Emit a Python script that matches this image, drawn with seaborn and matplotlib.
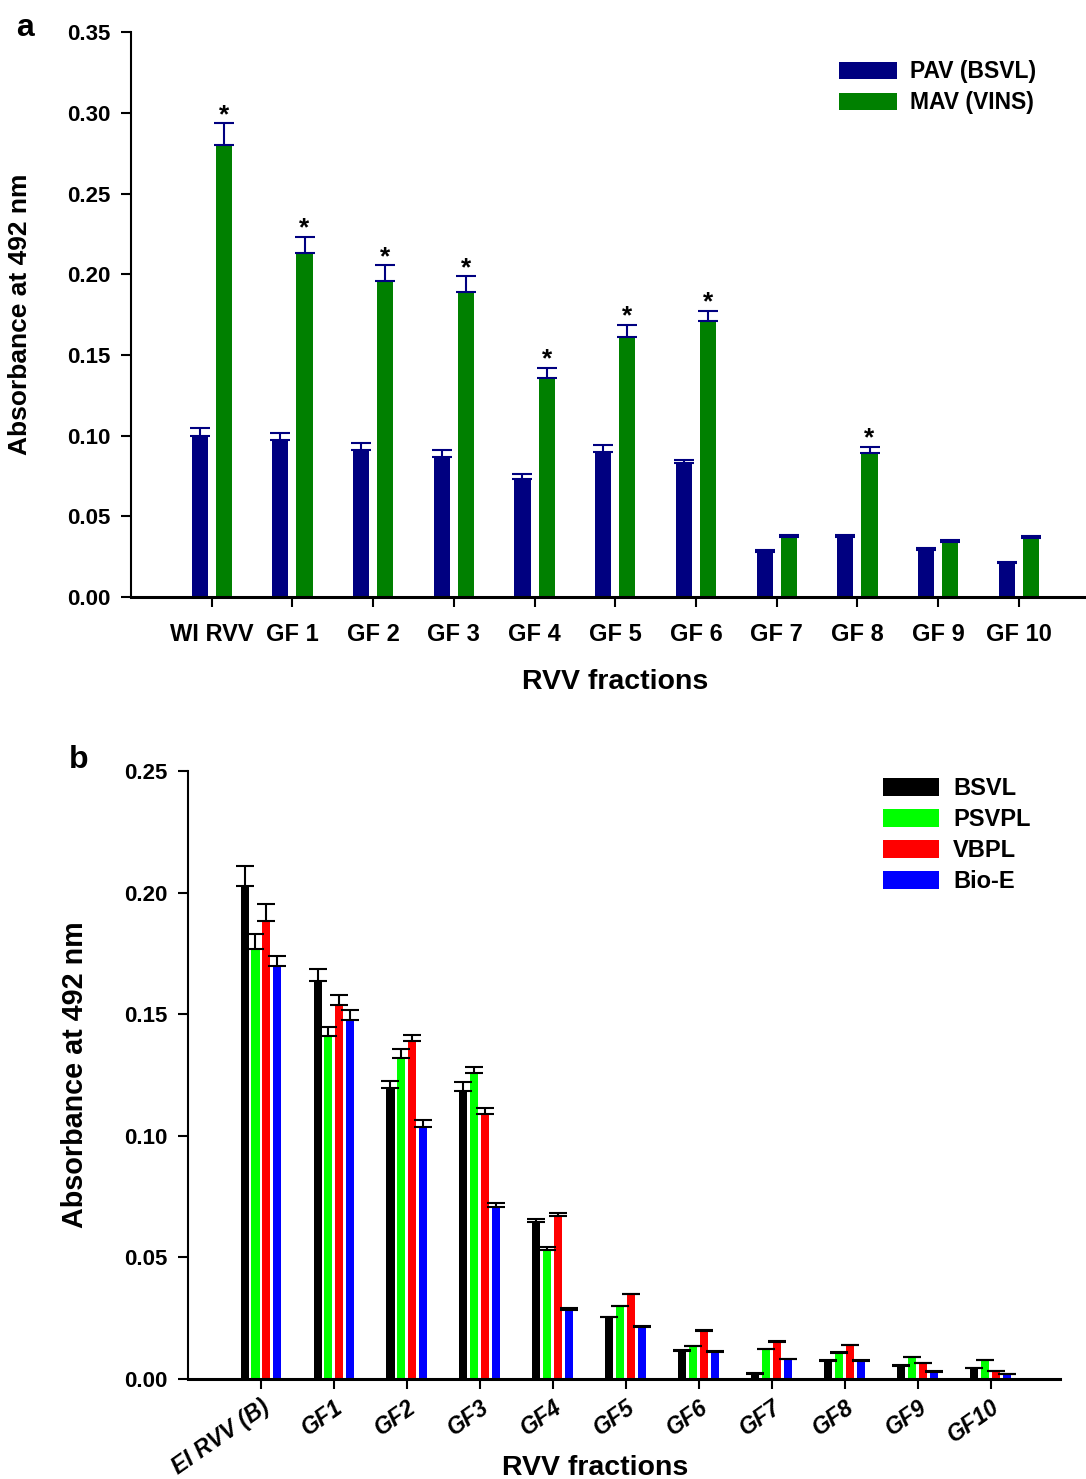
import numpy as np
import pandas as pd
import matplotlib
matplotlib.use("Agg")
import matplotlib.pyplot as plt
import seaborn as sns

# ---------------- data ----------------
categories_a = ["WI RVV", "GF 1", "GF 2", "GF 3", "GF 4", "GF 5", "GF 6",
                "GF 7", "GF 8", "GF 9", "GF 10"]
series_a = ["PAV (BSVL)", "MAV (VINS)"]
pav = [0.100, 0.097, 0.091, 0.087, 0.073, 0.090, 0.083, 0.028, 0.037, 0.029, 0.021]
pav_err = [0.0046, 0.0046, 0.0046, 0.0041, 0.0033, 0.0043, 0.0019, 0.0012, 0.0016, 0.0011, 0.0008]
mav = [0.280, 0.213, 0.196, 0.189, 0.1355, 0.161, 0.171, 0.037, 0.089, 0.034, 0.0366]
mav_err = [0.0134, 0.0103, 0.0095, 0.0096, 0.0064, 0.0078, 0.0064, 0.0016, 0.0042, 0.0014, 0.0014]
mav_star = [1, 1, 1, 1, 1, 1, 1, 0, 1, 0, 0]

categories_b = ["EI RVV (B)", "GF1", "GF2", "GF3", "GF4", "GF5", "GF6",
                "GF7", "GF8", "GF9", "GF10"]
series_b = ["BSVL", "PSVPL", "VBPL", "Bio-E"]
bsvl = [0.2028, 0.1638, 0.1197, 0.1186, 0.0646, 0.0254, 0.0116, 0.0020, 0.0075, 0.0055, 0.0044]
bsvl_err = [0.0081, 0.0048, 0.0029, 0.0037, 0.0010, 0.0003, 0.0002, 0.0003, 0.0002, 0.0002, 0.0002]
psvpl = [0.1770, 0.1410, 0.1322, 0.1260, 0.0530, 0.0299, 0.0135, 0.0122, 0.0108, 0.0090, 0.0078]
psvpl_err = [0.0058, 0.0039, 0.0035, 0.0021, 0.0013, 0.0003, 0.0002, 0.0002, 0.0002, 0.0002, 0.0002]
vbpl = [0.1884, 0.1536, 0.1388, 0.1088, 0.0672, 0.0348, 0.0198, 0.0154, 0.0138, 0.0064, 0.0033]
vbpl_err = [0.0068, 0.0044, 0.0027, 0.0026, 0.0011, 0.0003, 0.0002, 0.0003, 0.0002, 0.0002, 0.0002]
bioe = [0.1697, 0.1476, 0.1036, 0.0707, 0.0283, 0.0214, 0.0112, 0.0081, 0.0075, 0.0029, 0.0019]
bioe_err = [0.0044, 0.0041, 0.0029, 0.0015, 0.0007, 0.0003, 0.0002, 0.0002, 0.0002, 0.0002, 0.0002]

colors_a = ["#000080", "#008000"]
colors_b = ["#000000", "#00FF00", "#FF0000", "#0000FF"]

# ---------------- style ----------------
sns.set_style("ticks")
plt.rcParams["font.family"] = ["Liberation Sans", "DejaVu Sans"]
plt.rcParams["font.weight"] = "bold"
plt.rcParams["axes.labelweight"] = "bold"
for key in ["text.color", "axes.labelcolor", "xtick.color", "ytick.color",
            "axes.edgecolor"]:
    plt.rcParams[key] = "black"

fig = plt.figure(figsize=(10.86, 14.79), dpi=100)
ax1 = fig.add_axes([0.1206, 0.5963, 0.8785, 0.382])
ax2 = fig.add_axes([0.1731, 0.0676, 0.8030, 0.4111])


def long_df(cats, names, vals):
    rows = []
    for name, v in zip(names, vals):
        for c, y in zip(cats, v):
            rows.append({"fraction": c, "series": name, "value": y})
    return pd.DataFrame(rows)


def add_errors(ax, errs, color, lw, capsize):
    tops = []
    for cont, err in zip(ax.containers, errs):
        xs = np.array([b.get_x() + b.get_width() / 2 for b in cont])
        hs = np.array([b.get_height() for b in cont])
        e = np.array(err)
        ax.errorbar(xs, hs, yerr=[np.zeros_like(e), e], fmt="none",
                    ecolor=color, elinewidth=lw, capsize=capsize,
                    capthick=lw, zorder=5, clip_on=False)
        tops.append((xs, hs + e))
    return tops


def style_axis(ax, lw_left, lw_bottom):
    sns.despine(ax=ax)
    ax.spines["left"].set_linewidth(lw_left)
    ax.spines["bottom"].set_linewidth(lw_bottom)
    ax.spines["left"].set_color("black")
    ax.spines["bottom"].set_color("black")
    ax.tick_params(axis="both", direction="out", length=7, width=1.5,
                   color="black", labelcolor="black")


# ---------------- panel a ----------------
df_a = long_df(categories_a, series_a, [pav, mav])
sns.barplot(data=df_a, x="fraction", y="value", hue="series",
            order=categories_a, hue_order=series_a, palette=colors_a,
            width=0.6, gap=0.333, errorbar=None, saturation=1,
            linewidth=0, ax=ax1)
tops_a = add_errors(ax1, [pav_err, mav_err], "#000080", 1.5, 7)
xs_m, top_m = tops_a[1]
for x, t, s in zip(xs_m, top_m, mav_star):
    if s:
        ax1.annotate("*", (x, t), xytext=(0, 1), textcoords="offset points",
                     ha="center", va="baseline", fontsize=19,
                     fontweight="bold", color="black")

ax1.set_xlim(-1.0, 10.82)
ax1.set_ylim(0, 0.35)
ax1.set_yticks(np.arange(0, 0.351, 0.05))
ax1.set_yticklabels([f"{v:.2f}" for v in np.arange(0, 0.351, 0.05)],
                    fontsize=16, fontweight="bold")
ax1.set_xticks(range(len(categories_a)))
ax1.set_xticklabels(categories_a, fontsize=17, fontweight="bold")
style_axis(ax1, 1.5, 2.2)
ax1.tick_params(axis="y", pad=8)
ax1.tick_params(axis="x", pad=12)
ax1.set_ylabel("Absorbance at 492 nm", fontsize=19, fontweight="bold",
               color="black")
ax1.yaxis.set_label_coords(-0.104, 0.5)
ax1.set_xlabel("RVV fractions", fontsize=20.5, fontweight="bold",
               color="black")
ax1.xaxis.label.set_va("center")
ax1.xaxis.set_label_coords(0.507, -0.150)
h, l = ax1.get_legend_handles_labels()
ax1.legend(h, l, loc="upper left", bbox_to_anchor=(0.742, 0.95),
           frameon=False, handlelength=2.52,
           handleheight=0.77, handletextpad=0.6, labelspacing=0.34,
           borderpad=0, borderaxespad=0, labelcolor="black",
           prop={"weight": "bold", "size": 16.5})
fig.text(16 / 1086, 1 - 28 / 1479, "a", fontsize=23, fontweight="bold",
         va="center", ha="left", color="black")

# ---------------- panel b ----------------
df_b = long_df(categories_b, series_b, [bsvl, psvpl, vbpl, bioe])
sns.barplot(data=df_b, x="fraction", y="value", hue="series",
            order=categories_b, hue_order=series_b, palette=colors_b,
            width=0.6, gap=0.267, errorbar=None, saturation=1,
            linewidth=0, ax=ax2)
add_errors(ax2, [bsvl_err, psvpl_err, vbpl_err, bioe_err], "black", 1.5, 6.7)

ax2.set_xlim(-1.0, 10.95)
ax2.set_ylim(0, 0.25)
ax2.set_yticks(np.arange(0, 0.251, 0.05))
ax2.set_yticklabels([f"{v:.2f}" for v in np.arange(0, 0.251, 0.05)],
                    fontsize=16, fontweight="bold")
ax2.set_xticks(range(len(categories_b)))
ax2.set_xticklabels(categories_b, fontsize=16.5, fontweight="bold",
                    fontstyle="italic", rotation=35, ha="right",
                    rotation_mode="anchor")
style_axis(ax2, 1.5, 2.2)
ax2.tick_params(axis="y", pad=8)
ax2.tick_params(axis="x", pad=5)
ax2.set_ylabel("Absorbance at 492 nm", fontsize=20.7, fontweight="bold",
               color="black")
ax2.yaxis.set_label_coords(-0.114, 0.5)
ax2.set_xlabel("RVV fractions", fontsize=20.5, fontweight="bold",
               color="black")
ax2.xaxis.label.set_va("center")
ax2.xaxis.set_label_coords(0.467, -0.146)
h, l = ax2.get_legend_handles_labels()
ax2.legend(h, l, loc="upper left", bbox_to_anchor=(0.797, 0.99),
           frameon=False, handlelength=2.37, handleheight=0.76,
           handletextpad=0.6, labelspacing=0.34, borderpad=0,
           borderaxespad=0, labelcolor="black",
           prop={"weight": "bold", "size": 17})
fig.text(69 / 1086, 1 - 760 / 1479, "b", fontsize=23, fontweight="bold",
         va="center", ha="left", color="black")

fig.savefig("out.png", dpi=100)
